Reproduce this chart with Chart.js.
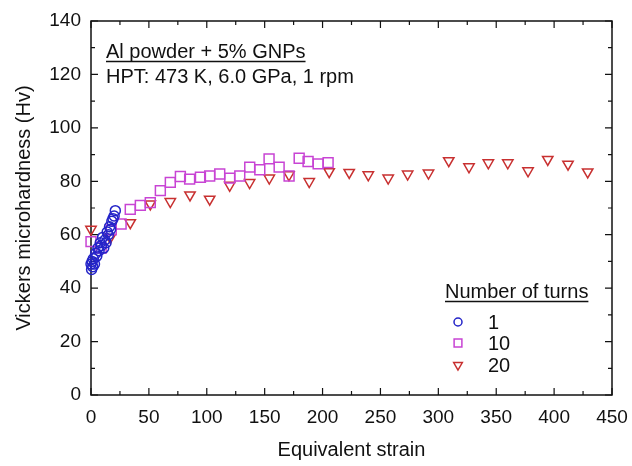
<!DOCTYPE html>
<html>
<head>
<meta charset="utf-8">
<script src="https://cdn.jsdelivr.net/npm/chart.js@4.4.1/dist/chart.umd.min.js"></script>
<style>
  html, body { margin: 0; padding: 0; background: #fff; }
  #wrap { width: 632px; height: 466px; }
</style>
</head>
<body>
<div id="wrap"><canvas id="chart" width="632" height="466"></canvas></div>
<script>
/* ----- dados ----- */
const turns1Strain = [0, 0.5, 1, 1.5, 2, 3, 4, 5, 6, 7, 8, 9, 10, 11, 12, 13, 14, 15, 16, 17, 18, 19, 20, 21];
const turns1Hv = [49, 47, 50, 48, 51, 49, 53, 52, 55, 54, 57, 56, 59, 55, 58, 57, 61, 60, 63, 62, 65, 66, 67, 69];

const turns10Strain = [0, 8.8, 17.5, 26, 33.9, 42.6, 51.2, 59.9, 68.5, 77.2, 85.2, 94.5, 102.5, 111.2, 119.8,
  128.5, 137.1, 145.8, 153.8, 162.5, 171.1, 179.8, 187.5, 196.2, 204.8];
const turns10Hv = [57.4, 55, 61.8, 64, 69.5, 71, 72, 76.5, 79.6, 81.8, 80.8, 81.5, 82, 82.7, 81.2,
  82, 85.3, 84.3, 88.4, 85.3, 82, 88.6, 87.4, 86.5, 87];

const turns20Strain = [0, 16.6, 33.9, 51.2, 68.5, 85.5, 102.5, 119.8, 137, 154, 171, 188.5, 205.7,
  223, 239.5, 256.7, 273.5, 291.5, 309, 326.5, 343.2, 360, 377.5, 394.5, 412, 429];
const turns20Hv = [62, 59, 64.5, 71.5, 72.4, 74.9, 73.3, 78.5, 79.5, 81.2, 82.4, 79.9, 83.6,
  83.3, 82.4, 81.2, 82.7, 83.1, 87.7, 85.4, 86.9, 86.9, 83.9, 88.2, 86.4, 83.5];

const seriesLabels = ['1', '10', '20'];
const xTicks = [0, 50, 100, 150, 200, 250, 300, 350, 400, 450];
const yTicks = [0, 20, 40, 60, 80, 100, 120, 140];

const FONT = "'Liberation Sans', Arial, sans-serif";

function toPoints(xs, ys) {
  return xs.map((x, i) => ({ x, y: ys[i] }));
}

/* ----- moldura com ticks para dentro (4 lados) ----- */
const frameTicks = {
  id: 'frameTicks',
  beforeDatasetsDraw(chart) {
    const { ctx, chartArea: a, scales: { x, y } } = chart;
    ctx.save();
    ctx.strokeStyle = '#111';
    ctx.lineWidth = 1.5;
    ctx.strokeRect(a.left, a.top, a.right - a.left, a.bottom - a.top);
    ctx.lineWidth = 1.2;
    ctx.beginPath();
    const xStep = xTicks[1] - xTicks[0];
    for (let v = xTicks[0]; v <= xTicks[xTicks.length - 1]; v += xStep / 2) {
      const px = x.getPixelForValue(v);
      const len = (v % xStep === 0) ? 7 : 4;
      ctx.moveTo(px, a.bottom); ctx.lineTo(px, a.bottom - len);
      ctx.moveTo(px, a.top); ctx.lineTo(px, a.top + len);
    }
    const yStep = yTicks[1] - yTicks[0];
    for (let v = yTicks[0]; v <= yTicks[yTicks.length - 1]; v += yStep / 2) {
      const py = y.getPixelForValue(v);
      const len = (v % yStep === 0) ? 7 : 4;
      ctx.moveTo(a.left, py); ctx.lineTo(a.left + len, py);
      ctx.moveTo(a.right, py); ctx.lineTo(a.right - len, py);
    }
    ctx.stroke();
    ctx.restore();
  }
};

/* ----- textos e legenda ----- */
function underlinedText(ctx, text, x, y) {
  ctx.fillText(text, x, y);
  const w = ctx.measureText(text).width;
  ctx.beginPath();
  ctx.moveTo(x, y + 3.5);
  ctx.lineTo(x + w, y + 3.5);
  ctx.stroke();
}

const notes = {
  id: 'notes',
  afterDraw(chart) {
    const { ctx } = chart;
    ctx.save();
    ctx.fillStyle = '#111';
    ctx.strokeStyle = '#111';
    ctx.lineWidth = 1.3;
    ctx.font = `20px ${FONT}`;
    ctx.textBaseline = 'alphabetic';
    ctx.textAlign = 'left';
    underlinedText(ctx, 'Al powder + 5% GNPs', 106, 58);
    ctx.fillText('HPT: 473 K, 6.0 GPa, 1 rpm', 106, 83);

    underlinedText(ctx, 'Number of turns', 445, 298);

    const rowY = [322, 343, 365];
    chart.data.datasets.forEach((ds, i) => {
      ctx.save();
      ctx.strokeStyle = ds.borderColor;
      ctx.fillStyle = 'rgba(0,0,0,0)';
      ctx.lineWidth = 1.5;
      Chart.helpers.drawPoint(ctx, {
        pointStyle: ds.pointStyle,
        rotation: ds.pointRotation || 0,
        radius: ds.legendRadius,
        borderWidth: 1.5
      }, 458, rowY[i]);
      ctx.restore();
      ctx.textBaseline = 'middle';
      ctx.fillText(ds.label, 488, rowY[i] + 1);
    });
    ctx.restore();
  }
};

new Chart(document.getElementById('chart'), {
  type: 'scatter',
  data: {
    datasets: [
      {
        label: seriesLabels[0],
        data: toPoints(turns1Strain, turns1Hv),
        pointStyle: 'circle',
        pointRadius: 5,
        legendRadius: 4,
        borderColor: '#2424c8',
        backgroundColor: 'rgba(0,0,0,0)',
        borderWidth: 1.5,
        clip: false
      },
      {
        label: seriesLabels[1],
        data: toPoints(turns10Strain, turns10Hv),
        pointStyle: 'rect',
        pointRadius: 7,
        legendRadius: 5.5,
        borderColor: '#c844d4',
        backgroundColor: 'rgba(0,0,0,0)',
        borderWidth: 1.5,
        clip: false
      },
      {
        label: seriesLabels[2],
        data: toPoints(turns20Strain, turns20Hv),
        pointStyle: 'triangle',
        pointRotation: 180,
        rotation: 180,
        pointRadius: 6,
        legendRadius: 5,
        borderColor: '#c83030',
        backgroundColor: 'rgba(0,0,0,0)',
        borderWidth: 1.5,
        clip: false
      }
    ]
  },
  options: {
    responsive: false,
    animation: false,
    layout: { padding: { top: 21, right: 20, left: 0, bottom: 0 } },
    plugins: {
      legend: { display: false },
      tooltip: { enabled: false }
    },
    scales: {
      x: {
        type: 'linear',
        min: xTicks[0],
        max: xTicks[xTicks.length - 1],
        afterBuildTicks: s => { s.ticks = xTicks.map(v => ({ value: v })); },
        afterFit: s => { s.height = 71; s.paddingLeft = 0; s.paddingRight = 0; },
        grid: { display: false, drawTicks: false },
        border: { display: false },
        ticks: { color: '#111', font: { family: FONT, size: 19 }, padding: 11, maxRotation: 0 },
        title: {
          display: true,
          text: 'Equivalent strain',
          color: '#111',
          font: { family: FONT, size: 20 },
          padding: { top: 0, bottom: 4 }
        }
      },
      y: {
        type: 'linear',
        min: yTicks[0],
        max: yTicks[yTicks.length - 1],
        afterBuildTicks: s => { s.ticks = yTicks.map(v => ({ value: v })); },
        afterFit: s => { s.width = 91; s.paddingTop = 0; s.paddingBottom = 0; },
        grid: { display: false, drawTicks: false },
        border: { display: false },
        ticks: { color: '#111', font: { family: FONT, size: 19 }, padding: 10 },
        title: {
          display: true,
          text: 'Vickers microhardness (Hv)',
          color: '#111',
          font: { family: FONT, size: 20 },
          padding: { top: 12, bottom: 0 }
        }
      }
    }
  },
  plugins: [frameTicks, notes]
});
</script>
</body>
</html>
